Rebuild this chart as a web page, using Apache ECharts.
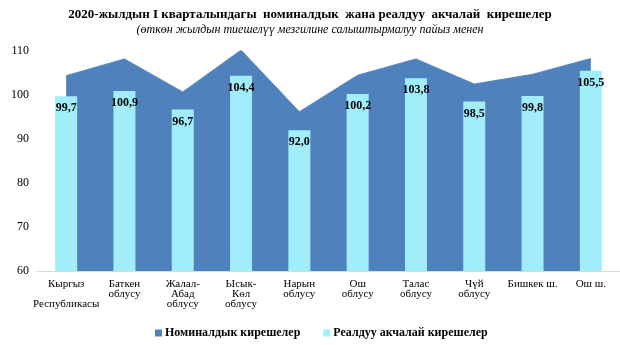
<!DOCTYPE html>
<html>
<head>
<meta charset="utf-8">
<script src="https://cdn.jsdelivr.net/npm/echarts@6/dist/echarts.min.js"></script>
<style>
  html, body { margin: 0; padding: 0; background: #fff; }
  #chart { width: 620px; height: 345px; }
</style>
</head>
<body>
<div id="chart"></div>
<script>
// Regions (multi-line axis labels)
const regions = [
  'Кыргыз\n\nРеспубликасы',
  'Баткен\nоблусу',
  'Жалал-\nАбад\nоблусу',
  'Ысык-\nКөл\nоблусу',
  'Нарын\nоблусу',
  'Ош\nоблусу',
  'Талас\nоблусу',
  'Чүй\nоблусу',
  'Бишкек ш.',
  'Ош ш.'
];

// Nominal income, % of the same period of the previous year
const nominalIncome = [104.4, 108.2, 100.7, 110.2, 96.2, 104.5, 108.2, 102.5, 104.7, 108.3];

// Real money income, % of the same period of the previous year
const realIncome = [99.7, 100.9, 96.7, 104.4, 92.0, 100.2, 103.8, 98.5, 99.8, 105.5];

const yTicks = { min: 60, max: 110, step: 10 };

const seriesNames = ['Номиналдык кирешелер', 'Реалдуу акчалай кирешелер'];

const serif = '"Liberation Serif", "DejaVu Serif", serif';

const chart = echarts.init(document.getElementById('chart'), null, { renderer: 'canvas' });

chart.setOption({
  animation: false,
  backgroundColor: '#ffffff',
  title: [
    {
      text: '2020-жылдын I кварталындагы  номиналдык  жана реалдуу  акчалай  кирешелер',
      left: 'center',
      top: 3,
      textStyle: { fontFamily: serif, fontSize: 13, fontWeight: 'bold', color: '#000' }
    },
    {
      text: '(өткөн жылдын тиешелүү мезгилине салыштырмалуу пайыз менен',
      left: 'center',
      top: 19,
      textStyle: { fontFamily: serif, fontSize: 12, fontStyle: 'italic', fontWeight: 'normal', color: '#000' }
    }
  ],
  legend: {
    left: 150,
    top: 322,
    itemWidth: 7,
    itemHeight: 7,
    itemGap: 23,
    icon: 'rect',
    textStyle: { fontFamily: serif, fontSize: 12, fontWeight: 'bold', color: '#000', padding: [0, 0, 0, -2] },
    data: seriesNames
  },
  grid: { left: 37, top: 51, width: 587, height: 220, containLabel: false },
  xAxis: {
    type: 'category',
    data: regions,
    boundaryGap: true,
    axisLine: { show: true, lineStyle: { color: '#D9D9D9', width: 1 } },
    axisTick: { show: false },
    axisLabel: {
      interval: 0,
      margin: 8,
      fontFamily: serif,
      fontSize: 11,
      lineHeight: 10,
      color: '#000'
    }
  },
  yAxis: {
    type: 'value',
    min: yTicks.min,
    max: yTicks.max,
    interval: yTicks.step,
    axisLine: { show: false },
    axisTick: { show: false },
    splitLine: { show: false },
    axisLabel: { fontFamily: serif, fontSize: 12, color: '#000', margin: 8 }
  },
  series: [
    {
      name: seriesNames[0],
      type: 'line',
      data: nominalIncome,
      showSymbol: false,
      symbol: 'none',
      z: 2,
      itemStyle: { color: '#4F81BD' },
      lineStyle: { color: '#5A8ACB', width: 1 },
      areaStyle: { color: '#4F81BD', opacity: 1, origin: 'start' }
    },
    {
      name: seriesNames[1],
      type: 'bar',
      data: realIncome,
      barWidth: 22,
      z: 3,
      itemStyle: { color: '#A2EDFA' },
      label: {
        show: true,
        position: 'insideTop',
        distance: 6,
        fontFamily: serif,
        fontSize: 12,
        fontWeight: 'bold',
        color: '#000',
        formatter: p => p.value.toFixed(1).replace('.', ',')
      }
    }
  ]
});
</script>
</body>
</html>
